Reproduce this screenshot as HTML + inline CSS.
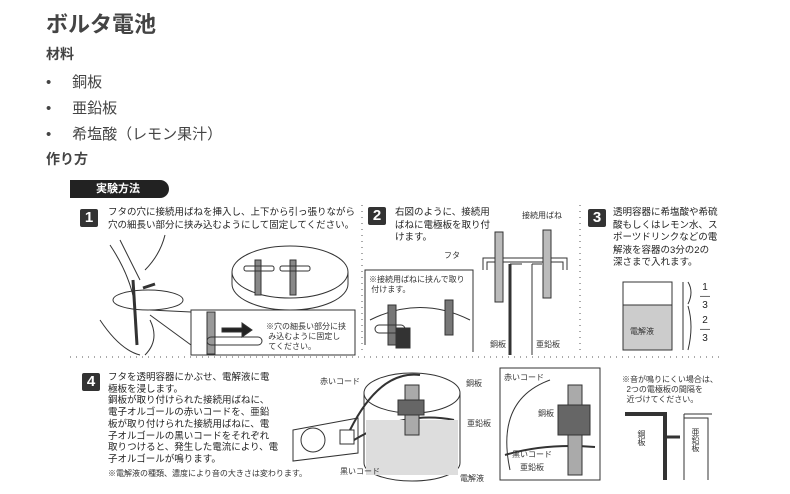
<!DOCTYPE html>
<html><head><meta charset="utf-8"><style>
body{margin:0;width:790px;height:494px;background:#fff;position:relative;overflow:hidden;font-family:"Liberation Sans","Noto Sans CJK JP",sans-serif;color:#222}
.a{position:absolute;white-space:nowrap}
.h{color:#444;font-weight:bold}
.b{position:absolute;width:18px;height:18px;background:#333;color:#fff;font-weight:bold;font-size:15px;text-align:center;line-height:18px;border-radius:2px}
.t{font-size:9.5px;line-height:12.5px;color:#222}
.s{font-size:8px;color:#333}
</style></head><body>
<div class="a h" style="left:46px;top:7px;font-size:22px">ボルタ電池</div>
<div class="a h" style="left:46px;top:44px;font-size:14px">材料</div>
<div class="a" style="left:46px;top:70px;font-size:15px;line-height:26px;color:#444">
<div>•&nbsp;&nbsp;&nbsp;&nbsp;&nbsp;銅板</div><div>•&nbsp;&nbsp;&nbsp;&nbsp;&nbsp;亜鉛板</div><div>•&nbsp;&nbsp;&nbsp;&nbsp;&nbsp;希塩酸（レモン果汁）</div></div>
<div class="a h" style="left:46px;top:149px;font-size:14px">作り方</div>
<div class="a" style="left:70px;top:180px;width:99px;height:18px;background:#222;border-radius:0 9px 9px 0;color:#fff;font-size:11px;font-weight:bold;line-height:18px;padding-left:26px;box-sizing:border-box">実験方法</div>

<svg class="a" style="left:0;top:0" width="790" height="494">
<g stroke="#aaa" stroke-width="2" stroke-dasharray="1 5" fill="none">
<line x1="70" y1="357" x2="720" y2="357"/><line x1="362" y1="205" x2="362" y2="355"/><line x1="580" y1="205" x2="580" y2="355"/>
</g>
<g fill="none" stroke="#333" stroke-width="1">
<path d="M110 245 q20 30 25 60 M120 240 q10 20 20 40 M165 235 q-5 20 -20 35 M100 320 q20 30 40 35 M150 320 q10 20 -5 35"/>
<line x1="133" y1="280" x2="137" y2="345" stroke-width="3"/>
<ellipse cx="148" cy="300" rx="35" ry="10"/>
<path d="M143 288 l12 -4" stroke-width="3"/>
<ellipse cx="290" cy="272" rx="58" ry="26"/><path d="M232 272 v12 a58 26 0 0 0 116 0 v-12"/>
<rect x="255" y="260" width="6" height="35" fill="#888"/><rect x="290" y="260" width="6" height="35" fill="#888"/>
<rect x="244" y="266" width="30" height="5" rx="2"/><rect x="280" y="266" width="30" height="5" rx="2"/>
<rect x="191" y="310" width="164" height="45" fill="#fff"/>
<line x1="150" y1="310" x2="191" y2="312"/><line x1="150" y1="315" x2="191" y2="345"/>
<rect x="207" y="312" width="8" height="42" fill="#999"/><rect x="207" y="337" width="55" height="8" rx="4"/>
<path d="M222 328 h20 v-5 l10 7 l-10 7 v-5 h-20z" fill="#222"/>
<path d="M365 345 v-75 h108 v82" />
<path d="M370 320 q50 -25 100 0"/>
<rect x="388" y="305" width="8" height="40" fill="#777"/><rect x="445" y="300" width="8" height="35" fill="#777"/>
<rect x="375" y="325" width="30" height="8" rx="4"/><rect x="396" y="328" width="14" height="20" fill="#333"/>
<path d="M483 270 v-12 h84 v12 M487 270 v-8 h76 v8" />
<rect x="495" y="232" width="8" height="70" fill="#bbb"/><rect x="543" y="230" width="8" height="68" fill="#bbb"/>
<line x1="510" y1="264" x2="510" y2="355" stroke-width="3"/><line x1="532" y1="264" x2="532" y2="355"/>
<path d="M522 264 h-12 M532 264 h10"/>
<rect x="623" y="282" width="49" height="68"/><rect x="623" y="305" width="49" height="45" fill="#ccc"/>
<line x1="683" y1="282" x2="683" y2="350"/>
<path d="M688 282 q6 10 0 22 M688 306 q6 20 0 44"/>
<path d="M293 430 l65 -12 v35 l-65 8z"/><circle cx="313" cy="440" r="12"/><rect x="340" y="430" width="14" height="14"/>
<path d="M350 430 q30 -60 70 -55 M354 440 q50 -30 100 -20" stroke-width="2"/>
<ellipse cx="412" cy="393" rx="48" ry="20"/><path d="M364 393 v70 a48 18 0 0 0 96 0 v-70"/>
<rect x="366" y="420" width="92" height="55" fill="#ddd" stroke="none"/>
<rect x="405" y="385" width="14" height="50" fill="#aaa"/><rect x="398" y="400" width="26" height="15" fill="#666"/>
<rect x="500" y="368" width="100" height="112"/>
<path d="M510 470 q-15 -70 40 -90" /><path d="M505 455 q40 -12 90 -8" stroke-width="2"/>
<rect x="568" y="385" width="14" height="90" fill="#aaa"/><rect x="558" y="405" width="32" height="30" fill="#666"/>
<path d="M625 414 h40 v66" stroke-width="4"/><path d="M684 414 h28 M684 418 h24 v62 M684 414 v66"/>
<path d="M665 437 l10 0 M680 437 l-6 0" stroke-width="3"/>
</g>
</svg>

<div class="b" style="left:80px;top:209px">1</div>
<div class="a t" style="left:108px;top:207px">フタの穴に接続用ばねを挿入し、上下から引っ張りながら<br>穴の細長い部分に挟み込むようにして固定してください。</div>
<div class="a s" style="left:266px;top:322px;line-height:10px">※穴の細長い部分に挟<br>&nbsp;み込むように固定し<br>&nbsp;てください。</div>
<div class="b" style="left:368px;top:207px">2</div>
<div class="a t" style="left:395px;top:207px">右図のように、接続用<br>ばねに電極板を取り付<br>けます。</div>
<div class="a s" style="left:522px;top:210px">接続用ばね</div>
<div class="a s" style="left:444px;top:250px">フタ</div>
<div class="a s" style="left:369px;top:275px;line-height:10px">※接続用ばねに挟んで取り<br>&nbsp;付けます。</div>
<div class="a s" style="left:490px;top:339px">銅板</div>
<div class="a s" style="left:536px;top:339px">亜鉛板</div>
<div class="b" style="left:588px;top:209px">3</div>
<div class="a t" style="left:613px;top:207px">透明容器に希塩酸や希硫<br>酸もしくはレモン水、ス<br>ポーツドリンクなどの電<br>解液を容器の3分の2の<br>深さまで入れます。</div>
<div class="a s" style="left:630px;top:326px">電解液</div>
<div class="a" style="left:700px;top:283px;font-size:10px;line-height:9px;text-align:center">1<br>―<br>3</div>
<div class="a" style="left:700px;top:316px;font-size:10px;line-height:9px;text-align:center">2<br>―<br>3</div>
<div class="b" style="left:82px;top:373px">4</div>
<div class="a t" style="left:108px;top:372px;line-height:11.7px">フタを透明容器にかぶせ、電解液に電<br>極板を浸します。<br>銅板が取り付けられた接続用ばねに、<br>電子オルゴールの赤いコードを、亜鉛<br>板が取り付けられた接続用ばねに、電<br>子オルゴールの黒いコードをそれぞれ<br>取りつけると、発生した電流により、電<br>子オルゴールが鳴ります。</div>
<div class="a s" style="left:108px;top:468px">※電解液の種類、濃度により音の大きさは変わります。</div>
<div class="a s" style="left:320px;top:376px">赤いコード</div>
<div class="a s" style="left:340px;top:466px">黒いコード</div>
<div class="a s" style="left:466px;top:378px">銅板</div>
<div class="a s" style="left:467px;top:418px">亜鉛板</div>
<div class="a s" style="left:460px;top:473px">電解液</div>
<div class="a s" style="left:504px;top:372px">赤いコード</div>
<div class="a s" style="left:538px;top:408px">銅板</div>
<div class="a s" style="left:512px;top:449px">黒いコード</div>
<div class="a s" style="left:520px;top:462px">亜鉛板</div>
<div class="a s" style="left:622px;top:375px;line-height:10px">※音が鳴りにくい場合は、<br>&nbsp;&nbsp;2つの電極板の間隔を<br>&nbsp;&nbsp;近づけてください。</div>
<div class="a s" style="left:636px;top:430px;writing-mode:vertical-rl">銅板</div>
<div class="a s" style="left:690px;top:428px;writing-mode:vertical-rl">亜鉛板</div>
</body></html>
